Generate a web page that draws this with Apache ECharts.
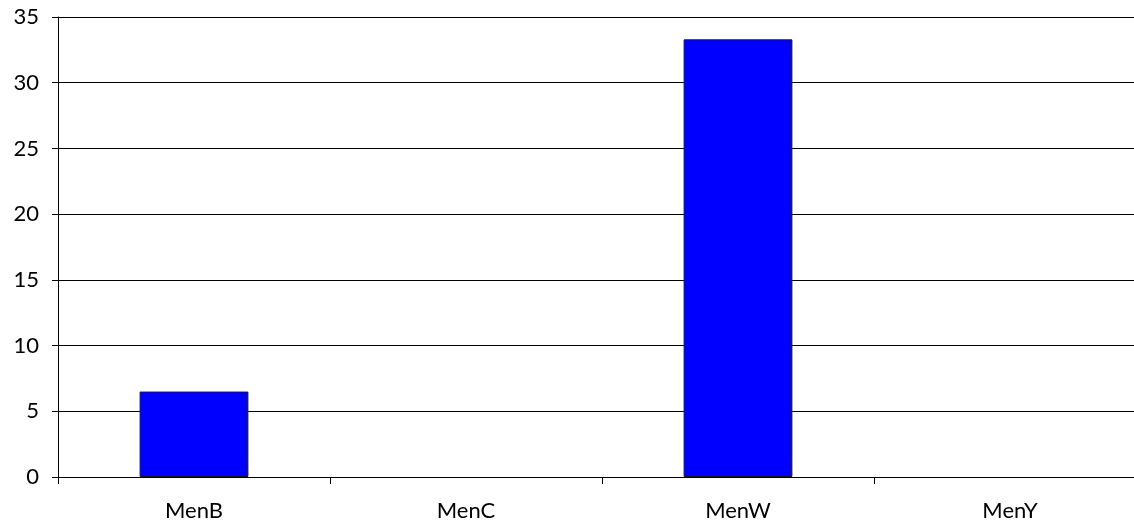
<!DOCTYPE html>
<html>
<head>
<meta charset="utf-8">
<script src="https://cdn.jsdelivr.net/npm/echarts@6/dist/echarts.min.js"></script>
<style>html,body{margin:0;padding:0;background:#fff;overflow:hidden;width:1134px;height:523px;}#c{width:1146px;height:523px;}</style>
</head>
<body>
<div id="c"></div>
<script>
const categories = ['MenB', 'MenC', 'MenW', 'MenY'];
const values = [6.5, 0, 33.3, 0];
const yTicks = {min: 0, max: 35, interval: 5};

const chart = echarts.init(document.getElementById('c'));
chart.setOption({
  animation: false,
  backgroundColor: '#ffffff',
  grid: {left: 58, top: 17, right: 0, bottom: 46},
  xAxis: {
    type: 'category',
    data: categories,
    axisLine: {show: true, lineStyle: {color: '#000', width: 1}},
    axisTick: {show: true, length: 7, lineStyle: {color: '#000'}},
    axisLabel: {color: '#000', fontFamily: 'Lato', fontSize: 22, margin: 23}
  },
  yAxis: {
    type: 'value',
    min: yTicks.min, max: yTicks.max, interval: yTicks.interval,
    axisLine: {show: true, lineStyle: {color: '#000', width: 1}},
    axisTick: {show: true, length: 6, lineStyle: {color: '#000'}},
    axisLabel: {color: '#000', fontFamily: 'Lato', fontSize: 22, margin: 19},
    splitLine: {show: true, lineStyle: {color: '#000', width: 1}}
  },
  series: [{
    type: 'bar',
    data: values.map(v => ({value: v, itemStyle: {borderWidth: v === 0 ? 0 : 1}})),
    barWidth: '40%',
    itemStyle: {color: '#0000ff', borderColor: '#1a1a1a', borderWidth: 1}
  }]
});
</script>
</body>
</html>
